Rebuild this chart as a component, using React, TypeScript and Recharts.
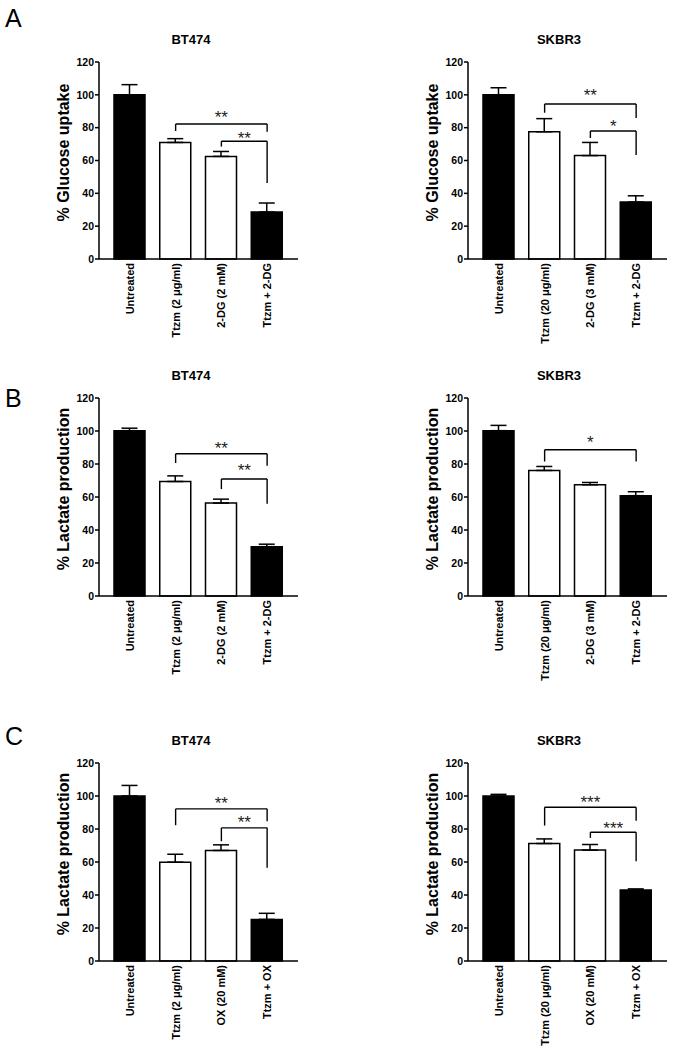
import React from "react"
import {
  BarChart,
  Bar,
  Cell,
  XAxis,
  YAxis,
  ErrorBar,
  ReferenceLine,
} from "recharts"

const FONT = "'Liberation Sans', Arial, Helvetica, sans-serif"

// categories
const bt474Glucose = ["Untreated", "Ttzm (2 \u03bcg/ml)", "2-DG (2 mM)", "Ttzm + 2-DG"]
const skbr3Glucose = ["Untreated", "Ttzm (20 \u03bcg/ml)", "2-DG (3 mM)", "Ttzm + 2-DG"]
const bt474Ox = ["Untreated", "Ttzm (2 \u03bcg/ml)", "OX (20 mM)", "Ttzm + OX"]
const skbr3Ox = ["Untreated", "Ttzm (20 \u03bcg/ml)", "OX (20 mM)", "Ttzm + OX"]

const yTicks = [0, 20, 40, 60, 80, 100, 120]

// means and SEM (upper only)
const aLeftVals = [100, 71, 62.5, 28.6]
const aLeftErr = [6.2, 2.3, 3, 5.5]
const aRightVals = [100, 77.5, 63, 34.7]
const aRightErr = [4.3, 8, 8, 3.8]

const bLeftVals = [100.2, 69.4, 56.3, 29.9]
const bLeftErr = [1.5, 3.4, 2.4, 1.5]
const bRightVals = [100.2, 76.1, 67.4, 60.8]
const bRightErr = [3.2, 2.4, 1.4, 2.4]

const cLeftVals = [100, 59.9, 67, 25.2]
const cLeftErr = [6.4, 4.8, 3.4, 3.7]
const cRightVals = [100, 71.2, 67.2, 43]
const cRightErr = [1, 2.8, 3.4, 0.7]

// significance brackets: from/to category index, bar height, end drops, star height
type Bracket = { from: number; to: number; y: number; leftEnd: number; rightEnd: number; starY: number; stars: string }

const aLeftBrackets: Bracket[] = [
  { from: 1, to: 3, y: 82.2, leftEnd: 78, rightEnd: 77.5, starY: 86.5, stars: "**" },
  { from: 2, to: 3, y: 71.7, leftEnd: 68.5, rightEnd: 46.3, starY: 74, stars: "**" },
]
const aRightBrackets: Bracket[] = [
  { from: 1, to: 3, y: 94.4, leftEnd: 89.1, rightEnd: 85.9, starY: 100, stars: "**" },
  { from: 2, to: 3, y: 78, leftEnd: 73.7, rightEnd: 63.3, starY: 80.8, stars: "*" },
]
const bLeftBrackets: Bracket[] = [
  { from: 1, to: 3, y: 86.2, leftEnd: 80.6, rightEnd: 79, starY: 90, stars: "**" },
  { from: 2, to: 3, y: 70.9, leftEnd: 64.8, rightEnd: 55.9, starY: 76.2, stars: "**" },
]
const bRightBrackets: Bracket[] = [
  { from: 1, to: 3, y: 88.6, leftEnd: 81.5, rightEnd: 81.5, starY: 93.4, stars: "*" },
]
const cLeftBrackets: Bracket[] = [
  { from: 1, to: 3, y: 92.2, leftEnd: 82.3, rightEnd: 84.7, starY: 95.5, stars: "**" },
  { from: 2, to: 3, y: 80.7, leftEnd: 72.6, rightEnd: 56.5, starY: 84, stars: "**" },
]
const cRightBrackets: Bracket[] = [
  { from: 1, to: 3, y: 93.2, leftEnd: 82.1, rightEnd: 85, starY: 96.5, stars: "***" },
  { from: 2, to: 3, y: 78, leftEnd: 74.6, rightEnd: 60.5, starY: 80.8, stars: "***" },
]

const barFills = ["#000", "#fff", "#fff", "#000"]

function RotatedTick(props: any) {
  const { x, y, payload } = props
  const ty = y + 4
  return (
    <text
      x={x}
      y={ty}
      transform={`rotate(-90, ${x}, ${ty})`}
      textAnchor="end"
      dominantBaseline="central"
      fontSize={11}
      fontWeight="bold"
      fontFamily={FONT}
      fill="#000"
    >
      {payload.value}
    </text>
  )
}

interface PanelProps {
  cats: string[]
  vals: number[]
  errs: number[]
  brackets: Bracket[]
  yLabel: string
  left: number
  top: number
  plotH: number
}

function Panel({ cats, vals, errs, brackets, yLabel, left, top, plotH }: PanelProps) {
  const data = cats.map((name, i) => ({ name, value: vals[i], err: [0, errs[i]] }))
  const line = { stroke: "#000", strokeWidth: 1.4 }

  return (
    <div style={{ position: "absolute", left, top }}>
      <BarChart
        width={284}
        height={20 + plotH + 88}
        data={data}
        margin={{ top: 20, right: 5, left: 0, bottom: 0 }}
      >
        <XAxis
          dataKey="name"
          height={88}
          interval={0}
          tickLine={false}
          tickSize={0}
          tickMargin={0}
          axisLine={{ stroke: "#000", strokeWidth: 1.5 }}
          tick={<RotatedTick />}
          padding={{ left: 8, right: 8 }}
        />
        <YAxis
          domain={[0, 120]}
          ticks={yTicks}
          width={80}
          tickSize={4}
          tickMargin={1}
          axisLine={{ stroke: "#000", strokeWidth: 1.5 }}
          tickLine={{ stroke: "#000", strokeWidth: 1.5 }}
          tick={{ fill: "#000", fontSize: 10.5, fontWeight: "bold", fontFamily: FONT }}
          label={{
            value: yLabel,
            angle: -90,
            position: "center",
            dx: 4,
            dy: -8,
            fill: "#000",
            fontSize: 16,
            fontWeight: "bold",
            fontFamily: FONT,
          }}
        />
        <Bar dataKey="value" barSize={31} stroke="#000" strokeWidth={1.5} isAnimationActive={false}>
          {data.map((d, i) => (
            <Cell key={d.name} fill={barFills[i]} />
          ))}
          <ErrorBar dataKey="err" direction="y" width={8} stroke="#000" strokeWidth={1.5} isAnimationActive={false} />
        </Bar>
        {brackets.map((b, i) => (
          <React.Fragment key={i}>
            <ReferenceLine
              segment={[{ x: cats[b.from], y: b.y }, { x: cats[b.to], y: b.y }]}
              {...line}
            />
            <ReferenceLine
              segment={[{ x: cats[b.from], y: b.y }, { x: cats[b.from], y: b.leftEnd }]}
              {...line}
            />
            <ReferenceLine
              segment={[{ x: cats[b.to], y: b.y }, { x: cats[b.to], y: b.rightEnd }]}
              {...line}
            />
            <ReferenceLine
              segment={[{ x: cats[b.from], y: b.starY }, { x: cats[b.to], y: b.starY }]}
              stroke="none"
              label={{
                value: b.stars,
                position: "center",
                fill: "#222",
                fontSize: 17,
                fontFamily: FONT,
              }}
            />
          </React.Fragment>
        ))}
      </BarChart>
    </div>
  )
}

function Title({ text, cx, top }: { text: string; cx: number; top: number }) {
  return (
    <div
      style={{
        position: "absolute",
        left: cx - 50,
        top,
        width: 100,
        textAlign: "center",
        fontSize: 13,
        lineHeight: "13px",
        fontWeight: "bold",
      }}
    >
      {text}
    </div>
  )
}

function Letter({ text, top }: { text: string; top: number }) {
  return (
    <div style={{ position: "absolute", left: 5, top, fontSize: 25, lineHeight: "25px" }}>
      {text}
    </div>
  )
}

export default function App() {
  return (
    <div
      style={{
        position: "absolute",
        left: 0,
        top: 0,
        width: 676,
        height: 1050,
        overflow: "hidden",
        background: "#fff",
        fontFamily: FONT,
        color: "#000",
      }}
    >
      <Letter text="A" top={6} />
      <Letter text="B" top={386} />
      <Letter text="C" top={724} />

      <Title text="BT474" cx={191} top={32.6} />
      <Title text="SKBR3" cx={559} top={32.6} />
      <Title text="BT474" cx={191} top={369.3} />
      <Title text="SKBR3" cx={559} top={369.3} />
      <Title text="BT474" cx={191} top={733.6} />
      <Title text="SKBR3" cx={559} top={733.6} />

      <Panel cats={bt474Glucose} vals={aLeftVals} errs={aLeftErr} brackets={aLeftBrackets}
        yLabel="% Glucose uptake" left={19} top={42} plotH={197} />
      <Panel cats={skbr3Glucose} vals={aRightVals} errs={aRightErr} brackets={aRightBrackets}
        yLabel="% Glucose uptake" left={388} top={42} plotH={197} />

      <Panel cats={bt474Glucose} vals={bLeftVals} errs={bLeftErr} brackets={bLeftBrackets}
        yLabel="% Lactate production" left={19} top={378} plotH={198} />
      <Panel cats={skbr3Glucose} vals={bRightVals} errs={bRightErr} brackets={bRightBrackets}
        yLabel="% Lactate production" left={388} top={378} plotH={198} />

      <Panel cats={bt474Ox} vals={cLeftVals} errs={cLeftErr} brackets={cLeftBrackets}
        yLabel="% Lactate production" left={19} top={743} plotH={198} />
      <Panel cats={skbr3Ox} vals={cRightVals} errs={cRightErr} brackets={cRightBrackets}
        yLabel="% Lactate production" left={388} top={743} plotH={198} />
    </div>
  )
}
